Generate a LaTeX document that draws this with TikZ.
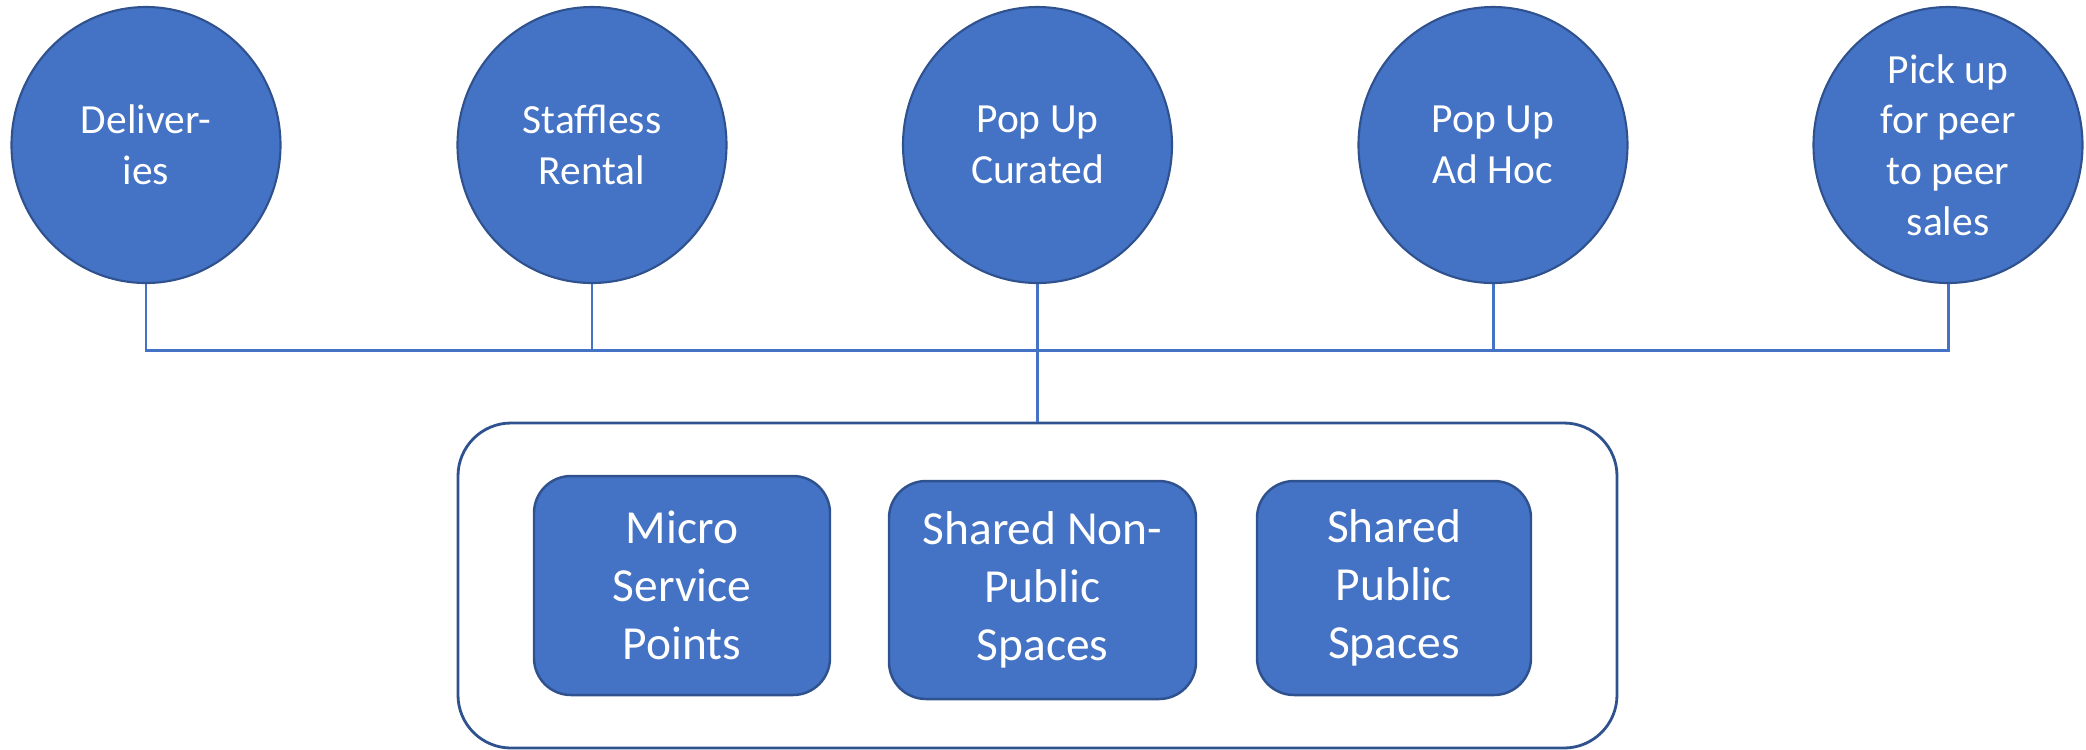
\documentclass[tikz,border=0pt]{standalone}
\usepackage{fontspec}
\setmainfont{Carlito}
\usetikzlibrary{shapes.geometric}

\definecolor{accent}{HTML}{4472C4}
\definecolor{accentdark}{HTML}{2F528F}

\tikzset{
  hub/.style={ellipse, draw=accentdark, line width=0.6pt, fill=accent, text=white,
    minimum width=2.69cm, minimum height=2.76cm, inner sep=0pt, align=center,
    font=\fontsize{11.8}{14.4}\selectfont},
  spacebox/.style={rectangle, rounded corners=0.37cm, draw=accentdark, line width=0.7pt,
    fill=accent, text=white, inner sep=0pt, align=center,
    font=\fontsize{13.5}{16.5}\selectfont},
  frame/.style={rectangle, rounded corners=0.53cm, draw=accentdark, line width=0.8pt,
    minimum width=11.59cm, minimum height=3.25cm},
  link/.style={draw=accent, line width=0.85pt}
}

\begin{document}
\begin{tikzpicture}

    % Canvas
    \useasboundingbox (0,0) rectangle (20.86,-7.49);

    % Services on top
    \node[hub] (Deliveries) at (1.46,-1.45) {Deliver-\\ies};
    \node[hub] (Staffless) at (5.92,-1.45) {Staffless\\Rental};
    \node[hub] (Curated) at (10.375,-1.45) {Pop Up\\Curated};
    \node[hub] (AdHoc) at (14.93,-1.45) {Pop Up\\Ad Hoc};
    \node[hub] (PeerSales) at (19.48,-1.45) {Pick up\\for peer\\to peer\\sales};

    % Bus line
    \coordinate (Bus) at (10.375,-3.5);

    % Spaces frame and the spaces in it
    \node[frame] (Spaces) at (10.375,-5.855) {};
    \node[spacebox, minimum width=2.96cm, minimum height=2.19cm] (Micro) at (6.82,-5.855) {Micro\\Service\\Points};
    \node[spacebox, minimum width=3.07cm, minimum height=2.18cm] (NonPublic) at (10.425,-5.90) {Shared Non-\\Public\\Spaces};
    \node[spacebox, minimum width=2.74cm, minimum height=2.14cm] (Public) at (13.94,-5.88) {Shared\\Public\\Spaces};

    % Connectors
    \draw[link] (Deliveries.south) -- (Deliveries.south |- Bus) -- (PeerSales.south |- Bus) -- (PeerSales.south);
    \draw[link] (Staffless.south) -- (Staffless.south |- Bus);
    \draw[link] (AdHoc.south) -- (AdHoc.south |- Bus);
    \draw[link] (Curated.south) -- (Spaces.north);

\end{tikzpicture}
\end{document}
